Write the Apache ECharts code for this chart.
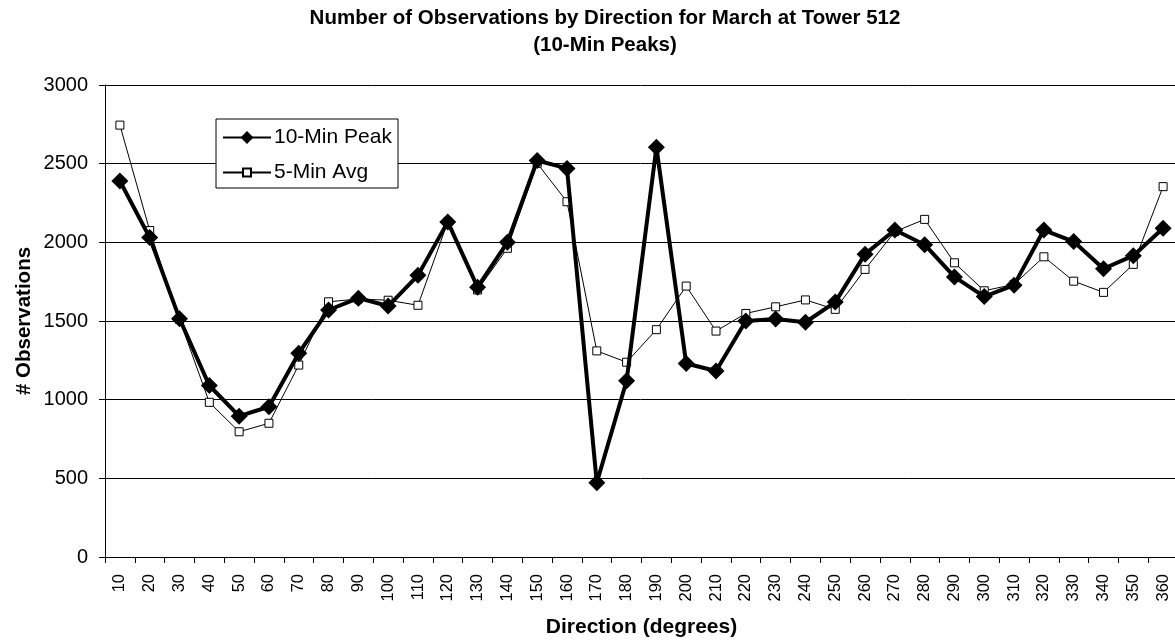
<!DOCTYPE html>
<html>
<head>
<meta charset="utf-8">
<script src="https://cdn.jsdelivr.net/npm/echarts@6/dist/echarts.min.js"></script>
<style>
  html, body { margin: 0; padding: 0; background: #fff; }
  #chart { width: 1175px; height: 640px; }
</style>
</head>
<body>
<div id="chart"></div>
<script>
// direction categories (degrees)
const directions = ['10','20','30','40','50','60','70','80','90','100','110','120',
  '130','140','150','160','170','180','190','200','210','220','230','240',
  '250','260','270','280','290','300','310','320','330','340','350','360'];

// 10-min peak counts
const peak10 = [2390, 2030, 1515, 1090, 895, 955, 1295, 1570, 1645, 1595, 1790, 2130,
  1715, 2000, 2520, 2470, 472, 1120, 2605, 1230, 1182, 1500, 1512, 1492,
  1620, 1925, 2078, 1985, 1780, 1655, 1728, 2078, 2005, 1832, 1915, 2090];

// 5-min average counts
const avg5 = [2745, 2075, 1510, 983, 796, 850, 1220, 1622, 1640, 1632, 1600, 2130,
  1697, 1962, 2502, 2258, 1310, 1238, 1445, 1722, 1436, 1548, 1590, 1634,
  1574, 1828, 2068, 2146, 1870, 1692, 1733, 1908, 1753, 1682, 1860, 2354];

const yTicks = { min: 0, max: 3000, step: 500 };

const font = "'Liberation Sans', Arial, sans-serif";
const chart = echarts.init(document.getElementById('chart'));

const option = {
  backgroundColor: '#fff',
  animation: false,
  title: {
    text: 'Number of Observations by Direction for March at Tower 512\n(10-Min Peaks)',
    left: 605,
    top: 5,
    padding: 0,
    textAlign: 'center',
    textStyle: { fontFamily: font, fontSize: 20.5, fontWeight: 'bold', color: '#000', lineHeight: 27 }
  },
  grid: { left: 105, right: -3, top: 85, bottom: 83, outerBoundsMode: 'none' },
  // legend frame
  graphic: [{
    type: 'rect',
    z: 3,
    shape: { x: 216, y: 119, width: 182, height: 69 },
    style: { fill: '#fff', stroke: '#000', lineWidth: 1 }
  }],
  legend: [
    {
      data: ['10-Min Peak'],
      left: 222, top: 127, padding: 0,
      itemWidth: 48, itemHeight: 16, itemGap: 4,
      textStyle: { fontFamily: font, fontSize: 21, color: '#000', padding: [0, 0, 0, -2] }
    },
    {
      data: ['5-Min Avg'],
      left: 222, top: 162, padding: 0,
      itemWidth: 48, itemHeight: 10, itemGap: 4,
      textStyle: { fontFamily: font, fontSize: 21, color: '#000', padding: [0, 0, 0, -2] }
    }
  ],
  xAxis: {
    type: 'category',
    data: directions,
    boundaryGap: true,
    name: 'Direction (degrees)',
    nameLocation: 'middle',
    nameGap: 60,
    nameMoveOverlap: false,
    nameTextStyle: { fontFamily: font, fontSize: 21, fontWeight: 'bold', color: '#000' },
    axisLine: { lineStyle: { color: '#000', width: 1 } },
    axisTick: { show: true, length: 6, lineStyle: { color: '#000' } },
    axisLabel: { rotate: 90, interval: 0, fontFamily: font, fontSize: 16.5, color: '#000', margin: 17 },
    splitLine: { show: false }
  },
  yAxis: {
    type: 'value',
    min: yTicks.min,
    max: yTicks.max,
    interval: yTicks.step,
    name: '# Observations',
    nameLocation: 'middle',
    nameGap: 70,
    nameMoveOverlap: false,
    nameTextStyle: { fontFamily: font, fontSize: 20.5, fontWeight: 'bold', color: '#000' },
    axisLine: { show: true, lineStyle: { color: '#000', width: 1 } },
    axisTick: { show: true, length: 6, lineStyle: { color: '#000' } },
    axisLabel: { fontFamily: font, fontSize: 20, color: '#000', margin: 17, formatter: (v) => String(v) },
    splitLine: { show: true, lineStyle: { color: '#000', width: 1 } }
  },
  series: [
    {
      name: '5-Min Avg',
      type: 'line',
      data: avg5,
      symbol: 'rect',
      symbolSize: 8,
      z: 2,
      lineStyle: { color: '#000', width: 1 },
      itemStyle: { color: '#fff', borderColor: '#000', borderWidth: 1 }
    },
    {
      name: '10-Min Peak',
      type: 'line',
      data: peak10,
      symbol: 'diamond',
      symbolSize: [17, 17],
      z: 3,
      lineStyle: { color: '#000', width: 4 },
      itemStyle: { color: '#000', borderColor: '#000', borderWidth: 0 }
    }
  ]
};

chart.setOption(option);
</script>
</body>
</html>
